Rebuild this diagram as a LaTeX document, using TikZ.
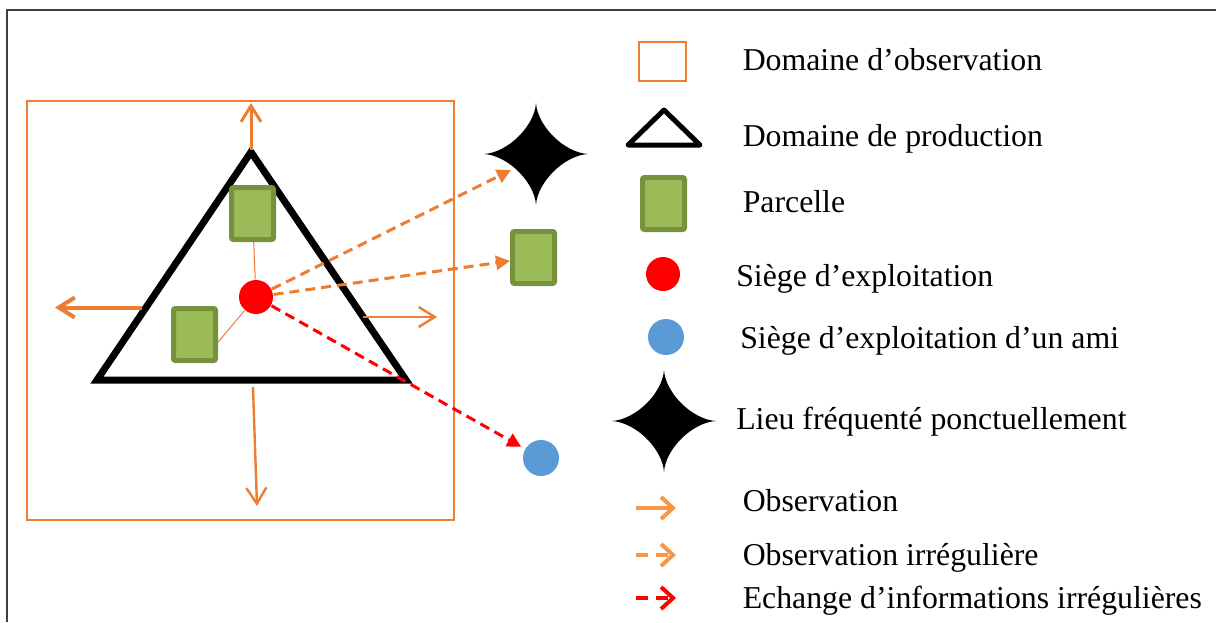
\documentclass[tikz,border=0pt]{standalone}
\usepackage{fontspec}
\setmainfont{Liberation Serif}
\usetikzlibrary{arrows.meta}

\definecolor{obsorange}{HTML}{ED7D31}
\definecolor{legorange}{HTML}{F79646}
\definecolor{parcfill}{HTML}{9BBB59}
\definecolor{parcdraw}{HTML}{76923C}
\definecolor{amiblue}{HTML}{5B9BD5}

\tikzset{every picture/.style={line width=0.75pt}}
\tikzset{
  parcelle/.style={draw=parcdraw,fill=parcfill,line width=2.5pt,rounded corners=1pt,inner sep=0pt,minimum width=21pt,minimum height=26pt},
  siege/.style={circle,fill=red,inner sep=0pt,minimum size=17pt},
  ami/.style={circle,fill=amiblue,inner sep=0pt,minimum size=18pt},
  obs/.style={draw=obsorange,-{Straight Barb[length=8pt,width=10pt]}},
  obsirr/.style={draw=obsorange,line width=1.5pt,dash pattern=on 5pt off 3pt,-{Triangle[length=7pt,width=7pt]}},
  echange/.style={draw=red,line width=1.5pt,dash pattern=on 5pt off 3pt,-{Triangle[length=7pt,width=7pt]}},
  legarrow/.style={line width=2pt,-{Straight Barb[length=6pt,width=11pt]}},
  legtext/.style={anchor=base west,inner sep=0pt,font=\fontsize{15.9}{18}\selectfont},
  lieu/.pic={\fill (0,-51) .. controls (1.5,-28) and (28,-1.5) .. (52,0) .. controls (28,1.5) and (1.5,28) .. (0,51) .. controls (-1.5,28) and (-28,1.5) .. (-52,0) .. controls (-28,-1.5) and (-1.5,-28) .. cycle;}
}

\begin{document}
\begin{tikzpicture}[x=0.5pt,y=0.5pt,yscale=-1]
\useasboundingbox (0,0) rectangle (1216,622);

%Shape: Frame
\draw [color={rgb, 255:red, 64; green, 64; blue, 64 }] (7,622) -- (7,10) -- (1216,10);

%Shape: Rectangle (domaine d'observation)
\draw [obsorange,line width=1pt] (27,101) rectangle (454,520);
%Shape: Triangle (domaine de production)
\draw [line width=3.5pt] (251,152) -- (406,380) -- (97,380) -- cycle;

% Parcelles, siege, ami
\node [parcelle] (parc1) at (252.5,213.5) {};
\node [parcelle] (parc2) at (194.5,334.5) {};
\node [parcelle] (parc3) at (533.5,257.5) {};
\node [siege] (siege) at (256,297) {};
\node [ami] (ami) at (541,458) {};
%Shape: Star (lieu)
\pic at (536,154) {lieu};
\coordinate (lieu) at (511,170);

%Straight Lines
\draw [obsorange,line width=0.5pt] (siege) -- (parc1);
\draw [obsorange,line width=0.5pt] (siege) -- (parc2.-18);

% Observation arrows
\coordinate (haut0) at (251,150);   \coordinate (haut1) at (251,103);
\coordinate (gauche0) at (142,307.5); \coordinate (gauche1) at (55,307.5);
\coordinate (droite0) at (363,317);  \coordinate (droite1) at (437,317);
\coordinate (bas0) at (253,387);     \coordinate (bas1) at (257,506);
\draw [obs,line width=1.5pt] (haut0) -- (haut1);
\draw [obs,line width=2pt] (gauche0) -- (gauche1);
\draw [obs,line width=1.2pt] (droite0) -- (droite1);
\draw [obs,line width=1.2pt] (bas0) -- (bas1);

% Irregular observation / exchange
\draw [obsirr] (siege) -- (lieu);
\draw [obsirr] (siege) -- (parc3);
\draw [echange,shorten >=2pt] (siege) -- (ami);

%Legend
\draw [obsorange,line width=1.2pt] (639,42) rectangle (686,81);
\draw [line width=2.5pt,line join=round] (664,110) -- (700,145) -- (628,145) -- cycle;
\node [parcelle] (legparc) at (663.5,203.5) {};
\node [siege] (legsiege) at (663,274) {};
\node [ami] (legami) at (666,337) {};
\pic at (664,421) {lieu};
\coordinate (lobs0) at (636,508); \coordinate (lobs1) at (676,508);
\coordinate (lirr0) at (636,555); \coordinate (lirr1) at (676,555);
\coordinate (lech0) at (636,598); \coordinate (lech1) at (676,598);
\draw [legarrow,legorange] (lobs0) -- (lobs1);
\draw [legarrow,legorange,dash pattern=on 6pt off 4pt] (lirr0) -- (lirr1);
\draw [legarrow,red,dash pattern=on 6pt off 4pt] (lech0) -- (lech1);

% Text Node
\node [legtext] (t1) at (742,70.7) {Domaine d’observation};
% Text Node
\node [legtext] (t2) at (742,146) {Domaine de production};
% Text Node
\node [legtext] (t3) at (742,212.7) {Parcelle};
% Text Node
\node [legtext] (t4) at (735.5,286.7) {Siège d’exploitation};
% Text Node
\node [legtext] (t5) at (739.5,348) {Siège d’exploitation d’un ami};
% Text Node
\node [legtext] (t6) at (735.5,429) {Lieu fréquenté ponctuellement};
% Text Node
\node [legtext] (t7) at (742,511.7) {Observation};
% Text Node
\node [legtext] (t8) at (742,565) {Observation irrégulière};
% Text Node
\node [legtext] (t9) at (742,608) {Echange d’informations irrégulières};

\end{tikzpicture}
\end{document}
